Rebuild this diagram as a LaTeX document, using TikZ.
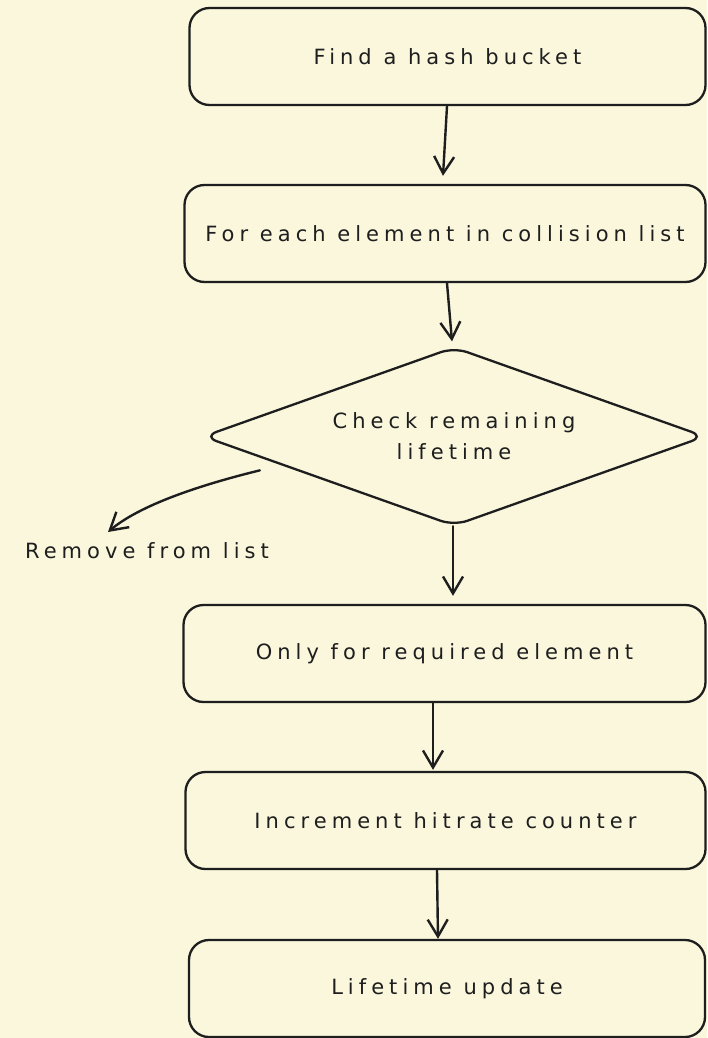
\documentclass[tikz,border=0pt]{standalone}
\usepackage{fontspec}
\setmainfont{DejaVu Sans}[LetterSpace=24]
\usetikzlibrary{arrows.meta,shapes.geometric,calc}
\definecolor{paper}{RGB}{250,247,221}
\definecolor{ink}{RGB}{30,30,30}
\begin{document}
\begin{tikzpicture}[x=1pt,y=-1pt,
  every node/.style={font=\fontsize{21}{31}\selectfont, text=ink},
  stepbox/.style={draw=ink, line width=2.3pt, rounded corners=20pt,
    minimum height=97pt, inner sep=0pt},
  decision/.style={diamond, aspect=2.75, draw=ink, line width=2.3pt,
    rounded corners=14pt, minimum width=502pt, minimum height=179pt,
    inner sep=0pt, align=center},
  flow/.style={draw=ink, line width=2.4pt, line cap=round,
    -{Straight Barb[length=17pt,width=20pt,line width=2.4pt]}}]
  \fill[paper] (0,0) rectangle (707,1038);
  \useasboundingbox (0,0) rectangle (707,1038);

  \node[stepbox, minimum width=516pt] (b1) at (447.5,56.5) {Find a hash bucket};
  \node[stepbox, minimum width=521pt] (b2) at (445,233.5) {For each element in collision list};
  \node[decision] (d) at (454,436.5) {Check remaining\\lifetime};
  \node[stepbox, minimum width=522pt] (b4) at (444.5,653.5) {Only for required element};
  \node[stepbox, minimum width=520pt] (b5) at (445.5,820.5) {Increment hitrate counter};
  \node[stepbox, minimum width=516pt] (b6) at (447,988.5) {Lifetime update};
  \node (rm) at (147,551) {Remove from list};

  \draw[flow] ([xshift=-0.5pt]b1.south) -- ([xshift=-2pt,yshift=8pt]b2.north);
  \draw[flow] ([xshift=2pt]b2.south) -- ([xshift=-2pt,yshift=4.5pt]d.north);
  \draw[flow] ([xshift=-1pt,yshift=1pt]d.south) -- ([xshift=8.5pt,yshift=8pt]b4.north);
  \draw[flow] ([xshift=-11.5pt]b4.south) -- ([xshift=-12.5pt,yshift=1pt]b5.north);
  \draw[flow] ([xshift=-8.5pt]b5.south) -- ([xshift=-9pt]b6.north);

  \coordinate (cut) at ($(d.west)!0.23!(d.south)+(0,13)$);
  \draw[flow] (cut) .. controls (200,485) and (140,505) .. ([xshift=-39pt,yshift=19pt]rm.center);
\end{tikzpicture}
\end{document}
